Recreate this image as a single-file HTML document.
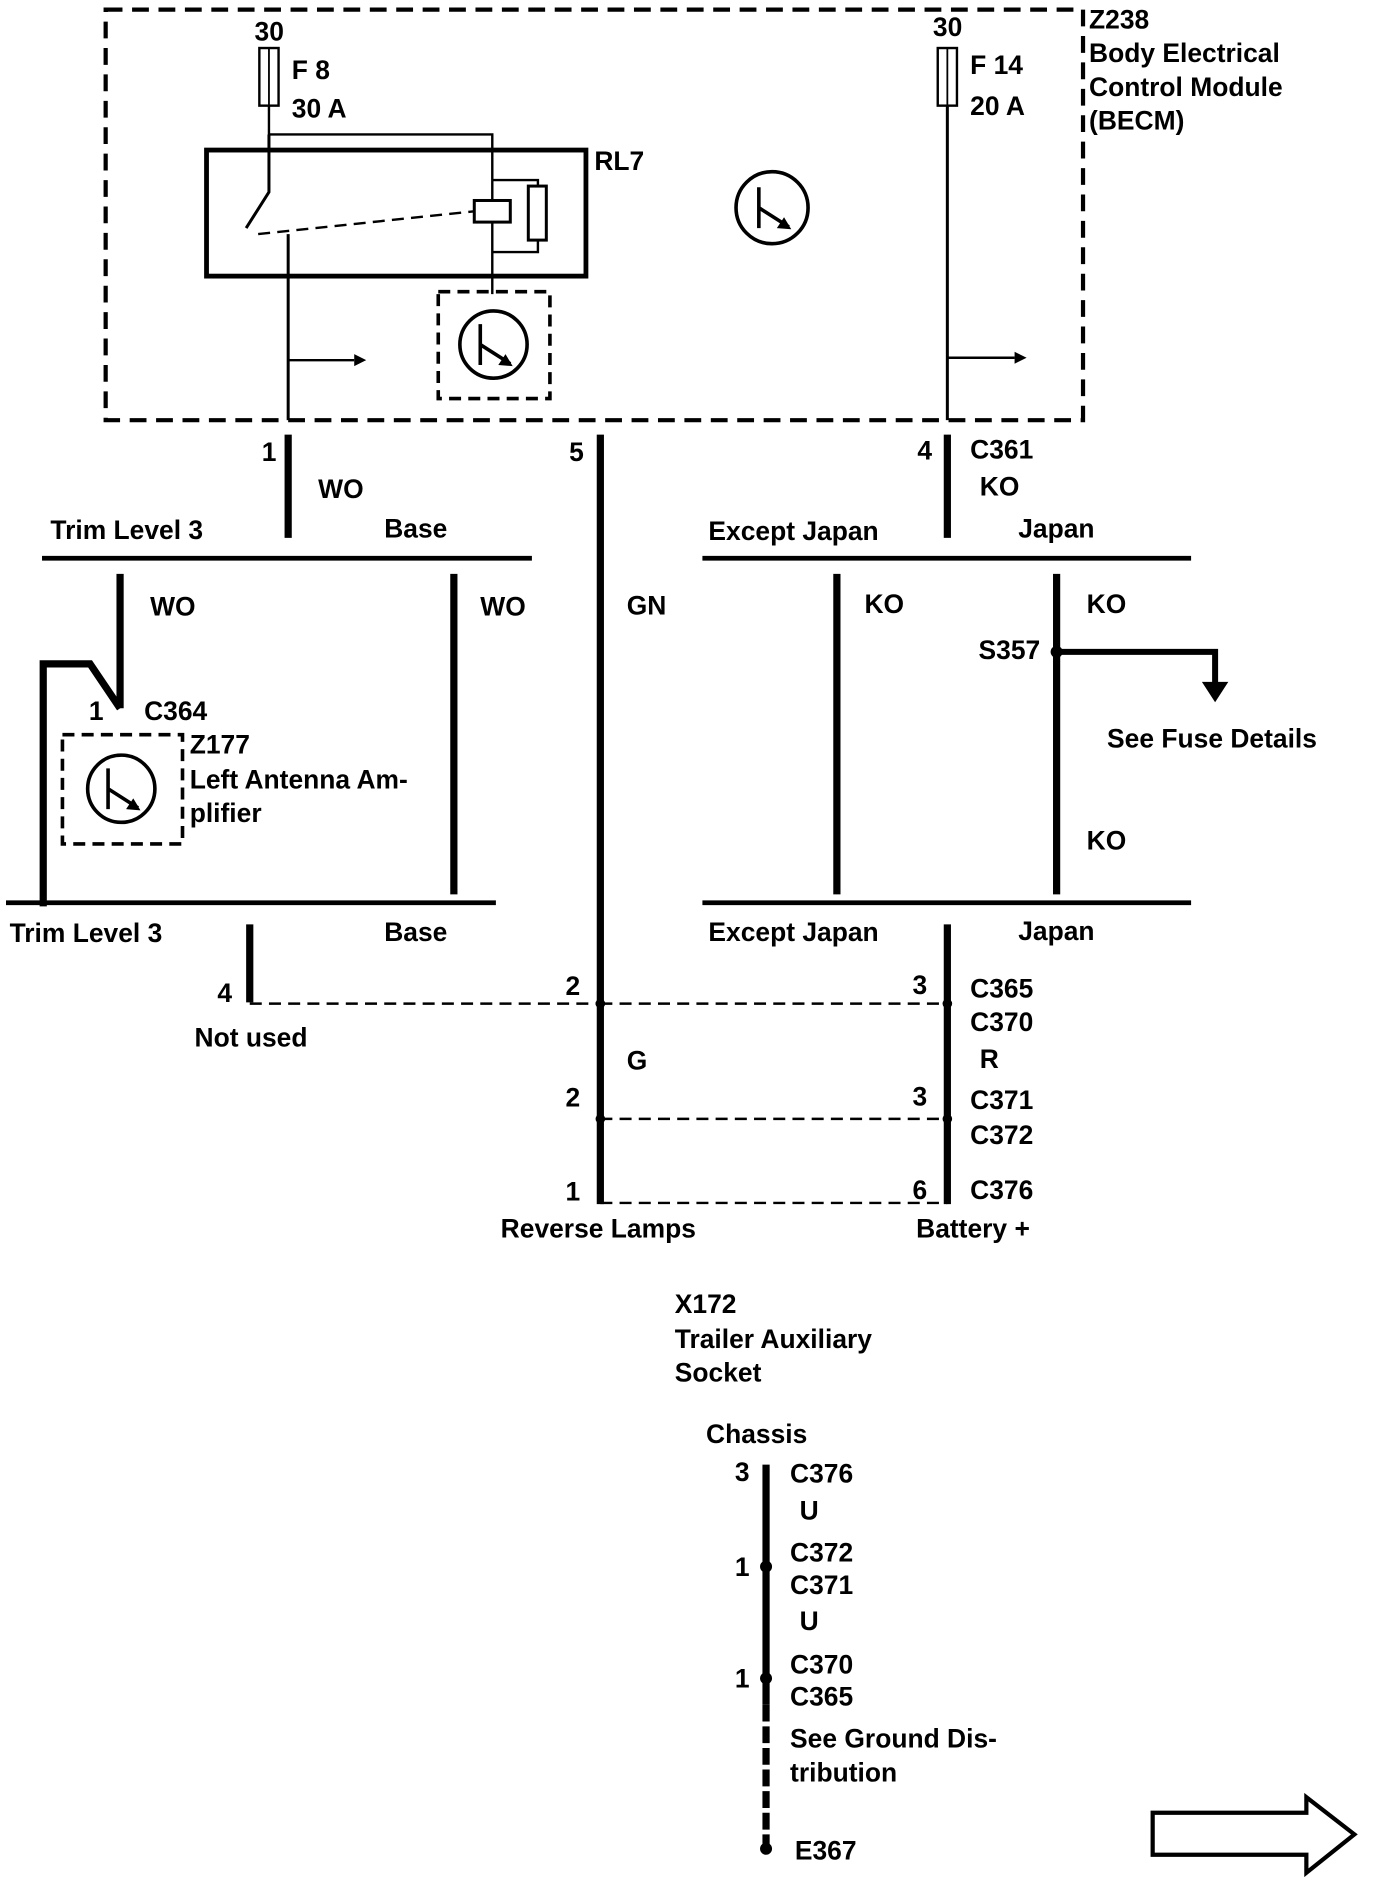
<!DOCTYPE html>
<html><head><meta charset="utf-8"><style>
html,body{margin:0;padding:0;background:#fff;}
svg{display:block;}
text{font-family:"Liberation Sans",sans-serif;font-weight:bold;font-size:22px;fill:#000;dominant-baseline:middle;}
</style></head><body>
<svg width="1376" height="1886" viewBox="0 0 1146 1571" preserveAspectRatio="none" xmlns="http://www.w3.org/2000/svg">
<g fill="none" stroke="#000">
<rect x="88" y="8" width="814" height="342" stroke-width="3.5" stroke-dasharray="14,8"/>
<rect x="216" y="40" width="16" height="48" stroke-width="2"/>
<line x1="224" y1="40" x2="224" y2="88" stroke-width="1.5"/>
<rect x="781" y="40" width="16" height="48" stroke-width="2"/>
<line x1="789" y1="40" x2="789" y2="88" stroke-width="1.5"/>
<polyline points="224,88 224,112 410,112 410,150" stroke-width="2"/>
<rect x="172" y="125" width="316" height="105" stroke-width="4"/>
<polyline points="224,112 224,160 205,190" stroke-width="2.5"/>
<line x1="240" y1="195" x2="240" y2="350" stroke-width="2.5"/>
<line x1="215" y1="195" x2="395" y2="176" stroke-width="2" stroke-dasharray="10,6"/>
<rect x="395" y="167" width="30" height="18" stroke-width="2.5"/>
<rect x="440" y="155" width="15" height="45" stroke-width="2.5"/>
<polyline points="410,150 410,167" stroke-width="2"/>
<polyline points="410,185 410,245" stroke-width="2"/>
<polyline points="410,150 448,150 448,155" stroke-width="2"/>
<polyline points="410,210 448,210 448,200" stroke-width="2"/>
<line x1="240" y1="300" x2="295" y2="300" stroke-width="2"/>
<rect x="365" y="243" width="93" height="89" stroke-width="3" stroke-dasharray="10,6"/>
<circle cx="411" cy="287" r="28" stroke-width="3"/>
<path d="M400 270 V304 M400 287 L425 303" stroke-width="3"/>
<circle cx="643" cy="173" r="30" stroke-width="3"/>
<path d="M632 156 V190 M632 173 L657 189" stroke-width="3"/>
<line x1="789" y1="88" x2="789" y2="350" stroke-width="2.5"/>
<line x1="789" y1="298" x2="845" y2="298" stroke-width="2"/>
<line x1="240" y1="362" x2="240" y2="448" stroke-width="6"/>
<line x1="35" y1="465" x2="443" y2="465" stroke-width="4"/>
<line x1="500" y1="362" x2="500" y2="1003" stroke-width="6"/>
<line x1="789" y1="362" x2="789" y2="448" stroke-width="6"/>
<line x1="585" y1="465" x2="992" y2="465" stroke-width="4"/>
<polyline points="100,478 100,565 100,590" stroke-width="6"/>
<polyline points="36,755 36,553 75,553 100,590" stroke-width="6"/>
<rect x="52" y="612" width="100" height="91" stroke-width="3" stroke-dasharray="10,6"/>
<circle cx="101" cy="657" r="28" stroke-width="3"/>
<path d="M90 640 V674 M90 657 L115 673" stroke-width="3"/>
<line x1="378" y1="478" x2="378" y2="745" stroke-width="6"/>
<line x1="5" y1="752" x2="413" y2="752" stroke-width="4"/>
<line x1="208" y1="770" x2="208" y2="835" stroke-width="6"/>
<line x1="208" y1="836" x2="500" y2="836" stroke-width="2" stroke-dasharray="10,6"/>
<line x1="697" y1="478" x2="697" y2="745" stroke-width="6"/>
<line x1="880" y1="478" x2="880" y2="745" stroke-width="6"/>
<polyline points="880,543 1012,543 1012,570" stroke-width="5"/>
<line x1="585" y1="752" x2="992" y2="752" stroke-width="4"/>
<line x1="789" y1="770" x2="789" y2="1003" stroke-width="6"/>
<line x1="500" y1="836" x2="789" y2="836" stroke-width="2" stroke-dasharray="10,6"/>
<line x1="500" y1="932" x2="789" y2="932" stroke-width="2" stroke-dasharray="10,6"/>
<line x1="500" y1="1002" x2="789" y2="1002" stroke-width="2" stroke-dasharray="10,6"/>
<line x1="638" y1="1220" x2="638" y2="1420" stroke-width="6"/>
<line x1="638" y1="1420" x2="638" y2="1540" stroke-width="6" stroke-dasharray="14,4"/>
<path d="M960 1510 H1088 V1497 L1128 1528 L1088 1560 V1545 H960 Z" stroke-width="3.5"/>
</g>
<g fill="#000">
<polygon points="295,295 305,300 295,305"/>
<polygon points="845,293 855,298 845,303"/>
<polygon points="1001,568 1023,568 1012,585"/>
<polygon points="427,305 415,304 421,295"/>
<polygon points="659,191 647,190 653,181"/>
<polygon points="117,675 105,674 111,665"/>
<circle cx="880" cy="543" r="5"/>
<circle cx="500" cy="836" r="4"/><circle cx="789" cy="836" r="4"/>
<circle cx="500" cy="932" r="4"/><circle cx="789" cy="932" r="4"/>
<circle cx="638" cy="1305" r="5"/><circle cx="638" cy="1398" r="5"/><circle cx="638" cy="1540" r="5"/>
</g>
<text x="212" y="28">30</text><text x="777" y="24">30</text>
<text x="243" y="60">F 8</text><text x="243" y="92">30 A</text>
<text x="808" y="56">F 14</text><text x="808" y="90">20 A</text>
<text x="907" y="18">Z238</text><text x="907" y="46">Body Electrical</text>
<text x="907" y="74">Control Module</text><text x="907" y="102">(BECM)</text>
<text x="495" y="136">RL7</text>
<text x="218" y="378">1</text><text x="265" y="409">WO</text>
<text x="474" y="378">5</text><text x="764" y="377">4</text>
<text x="808" y="376">C361</text><text x="816" y="407">KO</text>
<text x="42" y="443">Trim Level 3</text><text x="320" y="442">Base</text>
<text x="590" y="444">Except Japan</text><text x="848" y="442">Japan</text>
<text x="125" y="507">WO</text><text x="400" y="507">WO</text><text x="522" y="506">GN</text>
<text x="720" y="505">KO</text><text x="905" y="505">KO</text>
<text x="815" y="543">S357</text>
<text x="922" y="617">See Fuse Details</text><text x="905" y="702">KO</text>
<text x="74" y="594">1</text><text x="120" y="594">C364</text>
<text x="158" y="622">Z177</text><text x="158" y="651">Left Antenna Am-</text><text x="158" y="679">plifier</text>
<text x="8" y="779">Trim Level 3</text><text x="320" y="778">Base</text>
<text x="590" y="778">Except Japan</text><text x="848" y="777">Japan</text>
<text x="181" y="829">4</text><text x="162" y="866">Not used</text>
<text x="471" y="823">2</text><text x="760" y="822">3</text>
<text x="808" y="825">C365</text><text x="808" y="853">C370</text>
<text x="522" y="885">G</text><text x="816" y="884">R</text>
<text x="471" y="916">2</text><text x="760" y="915">3</text>
<text x="808" y="918">C371</text><text x="808" y="947">C372</text>
<text x="471" y="994">1</text><text x="760" y="993">6</text><text x="808" y="993">C376</text>
<text x="417" y="1025">Reverse Lamps</text><text x="763" y="1025">Battery +</text>
<text x="562" y="1088">X172</text><text x="562" y="1117">Trailer Auxiliary</text><text x="562" y="1145">Socket</text>
<text x="588" y="1196">Chassis</text>
<text x="612" y="1228">3</text><text x="658" y="1229">C376</text><text x="666" y="1260">U</text>
<text x="612" y="1307">1</text><text x="658" y="1295">C372</text><text x="658" y="1322">C371</text>
<text x="666" y="1352">U</text>
<text x="612" y="1400">1</text><text x="658" y="1388">C370</text><text x="658" y="1415">C365</text>
<text x="658" y="1450">See Ground Dis-</text><text x="658" y="1478">tribution</text>
<text x="662" y="1543">E367</text>
</svg>
</body></html>
